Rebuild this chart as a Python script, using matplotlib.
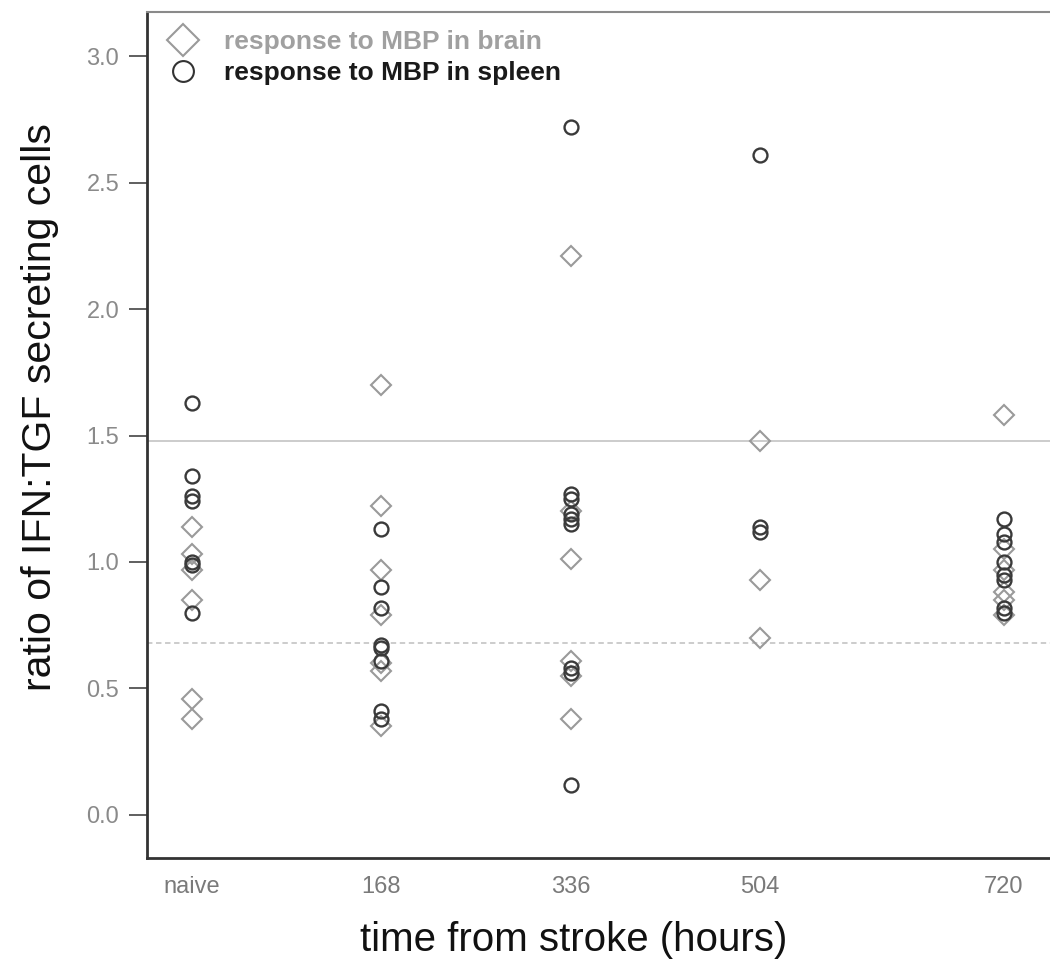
import matplotlib
matplotlib.use("Agg")
import matplotlib.pyplot as plt
from matplotlib.lines import Line2D

# ---- data ----
time_labels = ["naive", "168", "336", "504", "720"]
time_hours = [0, 168, 336, 504, 720]

brain = {
    0:   [1.14, 1.03, 0.97, 0.85, 0.46, 0.38],
    168: [1.70, 1.22, 0.97, 0.79, 0.60, 0.57, 0.35],
    336: [2.21, 1.20, 1.01, 0.61, 0.55, 0.38],
    504: [1.48, 0.93, 0.70],
    720: [1.58, 1.05, 0.97, 0.88, 0.85, 0.79],
}
spleen = {
    0:   [1.63, 1.34, 1.26, 1.24, 1.00, 0.99, 0.80],
    168: [1.13, 0.90, 0.82, 0.67, 0.66, 0.61, 0.41, 0.38],
    336: [2.72, 1.27, 1.25, 1.19, 1.17, 1.15, 0.58, 0.56, 0.12],
    504: [2.61, 1.14, 1.12],
    720: [1.17, 1.11, 1.08, 1.00, 0.95, 0.93, 0.82, 0.80],
}
upper_line = 1.48
lower_line = 0.68

yticks = [0.0, 0.5, 1.0, 1.5, 2.0, 2.5, 3.0]

# ---- figure ----
plt.rcParams["font.family"] = ["Liberation Sans", "DejaVu Sans"]

fig = plt.figure(figsize=(10.5, 9.61), dpi=100)
ax = fig.add_axes([0.14, 0.1072, 0.86, 0.8803])

bx, by, sx, sy = [], [], [], []
for t in time_hours:
    bx += [t] * len(brain[t]); by += brain[t]
    sx += [t] * len(spleen[t]); sy += spleen[t]

ax.axhline(upper_line, color="#c8c8c8", lw=1.3, zorder=1)
ax.axhline(lower_line, color="#c8c8c8", lw=1.3, ls=(0, (3, 2)), zorder=1)

ax.plot(bx, by, ls="none", marker="D", ms=10, mfc="none", mec="#9a9a9a", mew=1.5, zorder=2)
ax.plot(sx, sy, ls="none", marker="o", ms=10, mfc="none", mec="#3a3a3a", mew=1.7, zorder=3)

ax.set_xlim(-40, 761)
ax.set_ylim(-0.17, 3.174)
ax.set_xticks(time_hours)
ax.set_xticklabels(time_labels, fontsize=17, color="#7a7a7a")
ax.set_yticks(yticks)
ax.set_yticklabels([f"{v:.1f}" for v in yticks], fontsize=17, color="#8a8a8a")
ax.tick_params(axis="x", length=0, pad=13)
ax.tick_params(axis="y", length=13, width=1.2, color="#444444", pad=7)

ax.spines["right"].set_visible(False)
ax.spines["top"].set_color("#8a8a8a")
ax.spines["top"].set_linewidth(1.5)
ax.spines["left"].set_color("#333333")
ax.spines["left"].set_linewidth(2)
ax.spines["bottom"].set_color("#333333")
ax.spines["bottom"].set_linewidth(2)

ax.set_xlabel("time from stroke (hours)", fontsize=29, color="#111111")
ax.xaxis.set_label_coords(0.473, -0.097, transform=ax.transAxes)
ax.xaxis.label.set_verticalalignment("center")
ax.set_ylabel("ratio of IFN:TGF secreting cells", fontsize=29.5, color="#111111")
ax.yaxis.set_label_coords(-0.118, 0.533, transform=ax.transAxes)
ax.yaxis.label.set_verticalalignment("center")

handles = [
    Line2D([], [], ls="none", marker="D", ms=16, mfc="none", mec="#9a9a9a", mew=1.5),
    Line2D([], [], ls="none", marker="o", ms=15, mfc="none", mec="#333333", mew=1.5),
]
leg = ax.legend(handles, ["response to MBP in brain", "response to MBP in spleen"],
                loc="upper left", frameon=False, handletextpad=0.9,
                labelspacing=0.25, borderaxespad=0.3, handlelength=1.3,
                prop={"weight": "bold", "size": 19})
leg.get_texts()[0].set_color("#a0a0a0")
leg.get_texts()[1].set_color("#1a1a1a")

fig.savefig("out.png", dpi=100)
